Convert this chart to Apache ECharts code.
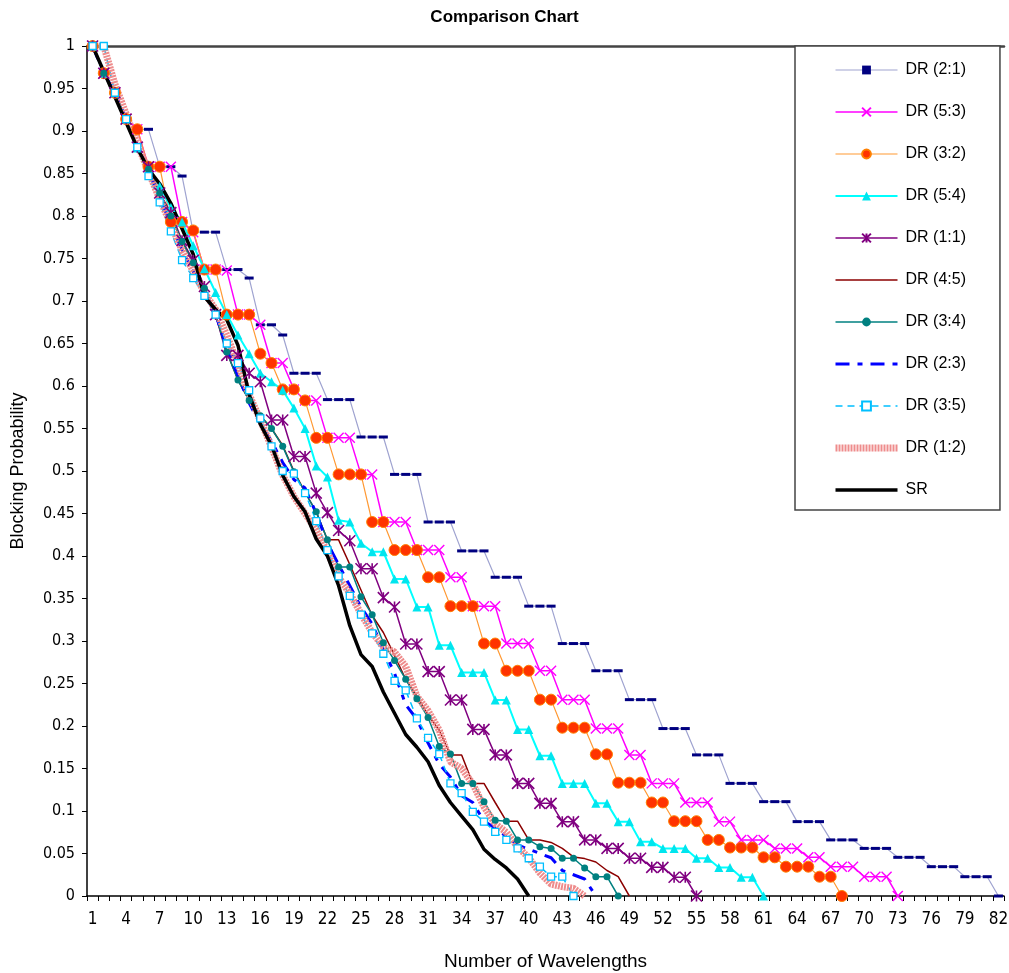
<!DOCTYPE html>
<html>
<head>
<meta charset="utf-8">
<script src="https://cdn.jsdelivr.net/npm/echarts@6/dist/echarts.min.js"></script>
<style>
html,body{margin:0;padding:0;background:#fff;}
#chart{width:1009px;height:973px;}
</style>
</head>
<body>
<div id="chart"></div>
<script>
const categories = ['1','2','3','4','5','6','7','8','9','10','11','12','13','14','15','16','17','18','19','20',
'21','22','23','24','25','26','27','28','29','30','31','32','33','34','35','36','37','38','39','40',
'41','42','43','44','45','46','47','48','49','50','51','52','53','54','55','56','57','58','59','60',
'61','62','63','64','65','66','67','68','69','70','71','72','73','74','75','76','77','78','79','80','81','82'];

const seriesNames = ['DR (2:1)','DR (5:3)','DR (3:2)','DR (5:4)','DR (1:1)','DR (4:5)','DR (3:4)','DR (2:3)','DR (3:5)','DR (1:2)','SR'];

const dr21 = [1.0,0.968,0.945,0.914,0.902,0.902,0.858,0.858,0.847,0.781,0.781,0.781,0.737,0.737,0.727,0.672,0.672,0.66,
0.615,0.615,0.615,0.584,0.584,0.584,0.54,0.54,0.54,0.496,0.496,0.496,0.44,0.44,0.44,0.406,0.406,0.406,
0.375,0.375,0.375,0.341,0.341,0.341,0.297,0.297,0.297,0.265,0.265,0.265,0.231,0.231,0.231,0.197,0.197,0.197,
0.166,0.166,0.166,0.1325,0.1325,0.1325,0.111,0.111,0.111,0.0875,0.0875,0.0875,0.066,0.066,0.066,0.056,0.056,0.056,
0.0455,0.0455,0.0455,0.0345,0.0345,0.0345,0.0227,0.0227,0.0227,0];

const dr53 = [1.0,0.968,0.945,0.914,0.902,0.858,0.858,0.858,0.793,0.781,0.737,0.737,0.736,0.684,0.684,0.672,0.627,0.627,
0.596,0.583,0.583,0.539,0.539,0.539,0.496,0.496,0.44,0.44,0.44,0.407,0.407,0.407,0.375,0.375,0.341,0.341,0.341,
0.297,0.297,0.297,0.265,0.265,0.231,0.231,0.231,0.197,0.197,0.197,0.166,0.166,0.1325,0.1325,0.1325,0.110,0.110,0.110,
0.0875,0.0875,0.066,0.066,0.066,0.056,0.056,0.056,0.0455,0.0455,0.0345,0.0345,0.0345,0.0227,0.0227,0.0227,0];

const dr32 = [1.0,0.968,0.945,0.914,0.902,0.858,0.858,0.793,0.793,0.783,0.737,0.737,0.684,0.684,0.684,0.638,0.627,
0.596,0.596,0.583,0.539,0.539,0.496,0.496,0.496,0.44,0.44,0.407,0.407,0.407,0.375,0.375,0.341,0.341,0.341,
0.297,0.297,0.265,0.265,0.265,0.231,0.231,0.198,0.198,0.198,0.1667,0.1667,0.1333,0.1333,0.1333,0.110,0.110,
0.088,0.088,0.088,0.066,0.066,0.057,0.057,0.057,0.0455,0.0455,0.0345,0.0345,0.0345,0.0227,0.0227,0];

const dr54 = [1.0,0.968,0.945,0.914,0.88,0.858,0.835,0.81,0.793,0.765,0.738,0.71,0.684,0.66,0.638,0.615,0.605,0.595,
0.574,0.55,0.506,0.493,0.442,0.44,0.415,0.405,0.405,0.373,0.373,0.34,0.34,0.295,0.295,0.263,0.263,0.263,
0.2306,0.2306,0.196,0.196,0.165,0.165,0.1325,0.1325,0.1325,0.109,0.109,0.0875,0.0875,0.0638,0.0638,
0.056,0.056,0.056,0.0444,0.0444,0.0335,0.0335,0.022,0.022,0];

const dr11 = [1.0,0.968,0.945,0.914,0.881,0.858,0.827,0.804,0.771,0.748,0.717,0.684,0.636,0.636,0.615,0.605,0.56,0.56,
0.517,0.517,0.474,0.451,0.43,0.418,0.385,0.385,0.351,0.34,0.2965,0.2965,0.264,0.264,0.2306,0.2306,0.196,0.196,
0.166,0.166,0.1325,0.1325,0.109,0.109,0.0875,0.0875,0.066,0.066,0.056,0.056,0.0444,0.0444,0.0337,0.0337,0.022,0.022,0];

const dr45 = [1.0,0.968,0.945,0.914,0.881,0.855,0.827,0.80,0.77,0.745,0.715,0.684,0.64,0.607,0.583,0.565,0.55,0.53,
0.5,0.475,0.452,0.419,0.419,0.39,0.36,0.33,0.31,0.283,0.255,0.235,0.213,0.195,0.166,0.166,0.1325,0.1325,
0.11,0.088,0.088,0.066,0.066,0.063,0.056,0.046,0.044,0.04,0.03,0.0227,0];

const dr34 = [1.0,0.968,0.945,0.914,0.881,0.855,0.827,0.80,0.77,0.745,0.715,0.684,0.64,0.607,0.583,0.565,0.55,0.529,
0.499,0.475,0.452,0.419,0.387,0.387,0.352,0.331,0.298,0.277,0.255,0.232,0.21,0.176,0.167,0.1325,0.1325,
0.111,0.089,0.088,0.066,0.066,0.058,0.056,0.0444,0.0444,0.033,0.0227,0.0227,0];

const dr23 = [1.0,0.968,0.945,0.914,0.881,0.852,0.822,0.79,0.76,0.735,0.71,0.684,0.645,0.612,0.58,0.555,0.535,0.51,
0.49,0.48,0.45,0.415,0.39,0.365,0.34,0.32,0.29,0.262,0.225,0.208,0.18,0.155,0.14,0.118,0.11,0.088,
0.08,0.07,0.06,0.055,0.05,0.045,0.03,0.025,0.02,0];

const dr35 = [1.0,1.0,0.945,0.914,0.881,0.847,0.816,0.782,0.748,0.727,0.706,0.684,0.65,0.627,0.595,0.562,0.529,0.5,
0.497,0.474,0.441,0.407,0.376,0.353,0.331,0.309,0.285,0.253,0.242,0.209,0.186,0.167,0.1325,0.121,0.099,
0.0874,0.0755,0.066,0.056,0.0444,0.0345,0.0227,0.0227,0];

const dr12 = [1.0,1.0,0.955,0.92,0.885,0.852,0.82,0.79,0.76,0.735,0.71,0.69,0.66,0.625,0.59,0.56,0.528,0.495,
0.47,0.45,0.43,0.405,0.375,0.356,0.332,0.31,0.293,0.287,0.27,0.235,0.218,0.195,0.158,0.15,0.132,0.105,
0.085,0.075,0.058,0.045,0.027,0.014,0.011,0.009,0];

const sr = [1.0,0.97,0.94,0.91,0.88,0.855,0.838,0.815,0.785,0.755,0.705,0.69,0.678,0.648,0.59,0.555,0.53,0.495,
0.47,0.452,0.42,0.40,0.365,0.318,0.284,0.27,0.24,0.215,0.19,0.175,0.158,0.13,0.11,0.094,0.078,0.055,
0.043,0.033,0.02,0];

const yTicks = { min: 0, max: 1, step: 0.05 };

const dashMark = 'path://M0,0L9,0L9,3L0,3Z';
const xMark = 'path://M0,0L10,10M10,0L0,10';
const starMark = 'path://M0,0L10,10M10,0L0,10M5,0L5,10';

function mk(name, data, line, sym) {
  const s = {
    name: name, type: 'line', data: data, xAxisIndex: 0, yAxisIndex: 0,
    showAllSymbol: true, animation: false, connectNulls: false,
    lineStyle: line, emphasis: { disabled: true }
  };
  if (sym) {
    s.symbol = sym.symbol; s.symbolSize = sym.size;
    s.itemStyle = sym.item;
  } else {
    s.symbol = 'circle'; s.showSymbol = false;
    s.itemStyle = { color: line.color };
  }
  return s;
}

const series = [
  mk(seriesNames[0], dr21, { color: '#9FA3D0', width: 1.2 },
     { symbol: dashMark, size: [9, 3], item: { color: '#000080' } }),
  mk(seriesNames[1], dr53, { color: '#FF00FF', width: 1.5 },
     { symbol: xMark, size: 10, item: { color: '#FF00FF', borderColor: '#FF00FF', borderWidth: 1.4 } }),
  mk(seriesNames[2], dr32, { color: '#FF9933', width: 1.2 },
     { symbol: 'circle', size: 11, item: { color: '#FF3300', borderColor: '#FF8000', borderWidth: 1 } }),
  mk(seriesNames[3], dr54, { color: '#00FFFF', width: 2 },
     { symbol: 'triangle', size: 9, item: { color: '#00E5EE' } }),
  mk(seriesNames[4], dr11, { color: '#800080', width: 1.5 },
     { symbol: starMark, size: 11, item: { color: '#800080', borderColor: '#800080', borderWidth: 1.6 } }),
  mk(seriesNames[5], dr45, { color: '#8B0000', width: 1.5 }, null),
  mk(seriesNames[6], dr34, { color: '#008080', width: 1.5 },
     { symbol: 'circle', size: 7, item: { color: '#008080' } }),
  mk(seriesNames[7], dr23, { color: '#0000FF', width: 3, type: [14, 8, 5, 8] }, null),
  mk(seriesNames[8], dr35, { color: '#00BFFF', width: 1.5, type: [7, 5] },
     { symbol: 'rect', size: 7, item: { color: '#FFFFFF', borderColor: '#00BFFF', borderWidth: 1.3 } }),
  mk(seriesNames[9], dr12, { color: '#EE8C8C', width: 7, type: [2, 1], cap: 'butt' }, null),
  mk(seriesNames[10], sr, { color: '#000000', width: 3.5 }, null)
];

const noMarker = { 'DR (4:5)': 1, 'DR (2:3)': 1, 'DR (1:2)': 1, 'SR': 1 };
const legendData = seriesNames.map(function (n) {
  return noMarker[n] ? { name: n, itemStyle: { opacity: 0, color: 'rgba(0,0,0,0)', borderWidth: 0 } } : { name: n };
});

const fontFam = '"Liberation Sans", Arial, sans-serif';
const narrowFam = '"Liberation Sans Narrow", "Arial Narrow", "DejaVu Sans Condensed", "Liberation Sans", sans-serif';

const option = {
  backgroundColor: '#ffffff',
  animation: false,
  title: {
    text: 'Comparison Chart', left: 'center', top: 4,
    textStyle: { fontFamily: fontFam, fontSize: 17, fontWeight: 'bold', color: '#000' }
  },
  grid: { left: 87, right: 5, top: 46, bottom: 77, containLabel: false, outerBoundsMode: 'none' },
  legend: {
    data: legendData, orient: 'vertical', left: 795, top: 46,
    padding: [16, 34, 12, 37],
    itemWidth: 62, itemHeight: 11, itemGap: 26,
    backgroundColor: '#ffffff', borderColor: '#444', borderWidth: 1.5,
    selectedMode: false,
    lineStyle: { width: 'inherit' },
    textStyle: { fontFamily: fontFam, fontSize: 16, color: '#000', padding: [0, 0, 0, 3] }
  },
  xAxis: [{
    type: 'category', data: categories, boundaryGap: true,
    name: 'Number of Wavelengths', nameLocation: 'middle', nameGap: 56,
    nameTextStyle: { fontFamily: fontFam, fontSize: 19, color: '#000' },
    axisLine: { lineStyle: { color: '#000', width: 1.5 } },
    axisTick: { show: true, interval: 0, length: 5, lineStyle: { color: '#000' } },
    axisLabel: { interval: 2, margin: 15, fontFamily: narrowFam, fontSize: 17, color: '#000' },
    splitLine: { show: false }
  }, {
    type: 'category', data: categories, boundaryGap: true, position: 'top',
    axisLine: { lineStyle: { color: '#444', width: 2.5 } },
    axisTick: { show: false }, axisLabel: { show: false }, splitLine: { show: false }
  }],
  yAxis: [{
    type: 'value', min: yTicks.min, max: yTicks.max, interval: yTicks.step,
    name: 'Blocking Probability', nameLocation: 'middle', nameGap: 60, nameRotate: 90,
    nameTextStyle: { fontFamily: fontFam, fontSize: 18, color: '#000' },
    axisLine: { show: true, lineStyle: { color: '#000', width: 1.5 } },
    axisTick: { show: true, length: 5, lineStyle: { color: '#000' } },
    axisLabel: { margin: 12, fontFamily: narrowFam, fontSize: 16, color: '#000' },
    splitLine: { show: false }
  }],
  series: series
};

const chart = echarts.init(document.getElementById('chart'), null, { renderer: 'canvas' });
chart.setOption(option);
</script>
</body>
</html>
